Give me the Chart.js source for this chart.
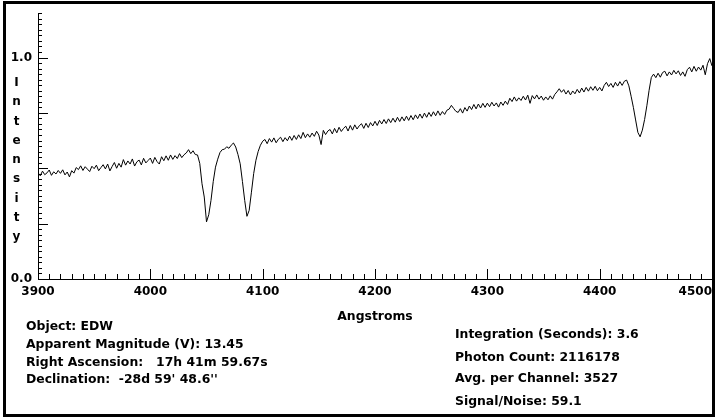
<!DOCTYPE html>
<html>
<head>
<meta charset="utf-8">
<title>EDW spectrum</title>
<script src="https://cdn.jsdelivr.net/npm/chart.js@4.4.1/dist/chart.umd.min.js"></script>
<style>
  html, body { margin: 0; padding: 0; background: #fff; }
  #wrap {
    position: relative; width: 715px; height: 418px; overflow: hidden;
    font-family: "DejaVu Sans", sans-serif; font-weight: bold; font-size: 12.4px; color: #000;
  }
  #spectrum { position: absolute; left: 0; top: 0; }
  .frame {
    position: absolute; left: 3px; top: 1px; width: 706px; height: 410px;
    border: 3px solid #000; pointer-events: none;
  }
  .info { position: absolute; white-space: pre; line-height: 14px; }
  .ylab {
    position: absolute; left: 10px; top: 73px; width: 13px;
    text-align: center; line-height: 19.25px; font-size: 12px;
  }
  .ylab span { display: block; }
</style>
</head>
<body>
<div id="wrap">
  <canvas id="spectrum" width="715" height="418"></canvas>
  <div class="ylab" id="ylab"></div>
  <div class="info" style="left:26px; top:319px;">Object: EDW</div>
  <div class="info" style="left:26px; top:337px;">Apparent Magnitude (V): 13.45</div>
  <div class="info" style="left:26px; top:355px;">Right Ascension:   17h 41m 59.67s</div>
  <div class="info" style="left:26px; top:372px;">Declination:  -28d 59' 48.6''</div>
  <div class="info" style="left:455px; top:327px;">Integration (Seconds): 3.6</div>
  <div class="info" style="left:455px; top:350px;">Photon Count: 2116178</div>
  <div class="info" style="left:455px; top:371px;">Avg. per Channel: 3527</div>
  <div class="info" style="left:455px; top:394px;">Signal/Noise: 59.1</div>
  <div class="frame"></div>
</div>
<script>
// Wavelength grid: one sample every 2 Angstroms starting at 3900
const channelStart = 3900;
const channelStep = 2;

// Relative intensity, 3900-3998 A
const flux3900s = [
  0.480, 0.466, 0.487, 0.471, 0.479, 0.492, 0.468, 0.484, 0.474, 0.490,
  0.477, 0.493, 0.470, 0.483, 0.461, 0.489, 0.478, 0.503, 0.494, 0.511,
  0.490, 0.507, 0.496, 0.485, 0.509, 0.498, 0.514, 0.489, 0.503, 0.516,
  0.497, 0.519, 0.488, 0.508, 0.526, 0.500, 0.522, 0.505, 0.539, 0.514,
  0.533, 0.519, 0.542, 0.510, 0.529, 0.537, 0.515, 0.545, 0.524, 0.535
];
// 4000-4098 A (two absorption lines)
const flux4000s = [
  0.546, 0.522, 0.549, 0.530, 0.519, 0.552, 0.534, 0.556, 0.536, 0.560,
  0.540, 0.557, 0.544, 0.566, 0.548, 0.561, 0.569, 0.584, 0.566, 0.579,
  0.562, 0.560, 0.522, 0.430, 0.370, 0.258, 0.290, 0.355, 0.440, 0.505,
  0.541, 0.571, 0.584, 0.586, 0.597, 0.590, 0.604, 0.614, 0.596, 0.562,
  0.520, 0.440, 0.355, 0.283, 0.310, 0.392, 0.476, 0.536, 0.576, 0.604
];
// 4100-4198 A
const flux4100s = [
  0.622, 0.630, 0.611, 0.634, 0.618, 0.637, 0.615, 0.631, 0.640, 0.620,
  0.638, 0.624, 0.645, 0.626, 0.648, 0.630, 0.651, 0.634, 0.662, 0.638,
  0.655, 0.640, 0.659, 0.644, 0.667, 0.650, 0.607, 0.671, 0.652, 0.668,
  0.675, 0.655, 0.680, 0.660, 0.685, 0.666, 0.680, 0.690, 0.668, 0.693,
  0.672, 0.696, 0.677, 0.692, 0.701, 0.680, 0.703, 0.684, 0.706, 0.691
];
// 4200-4298 A
const flux4200s = [
  0.712, 0.693, 0.716, 0.700, 0.720, 0.702, 0.723, 0.706, 0.726, 0.708,
  0.730, 0.711, 0.732, 0.714, 0.735, 0.716, 0.738, 0.719, 0.741, 0.724,
  0.745, 0.726, 0.749, 0.730, 0.752, 0.734, 0.755, 0.737, 0.759, 0.739,
  0.756, 0.743, 0.762, 0.767, 0.784, 0.770, 0.757, 0.752, 0.769, 0.749,
  0.774, 0.758, 0.781, 0.765, 0.788, 0.768, 0.790, 0.772, 0.793, 0.775
];
// 4300-4398 A
const flux4300s = [
  0.794, 0.778, 0.798, 0.781, 0.795, 0.776, 0.799, 0.784, 0.803, 0.788,
  0.816, 0.801, 0.822, 0.803, 0.818, 0.806, 0.825, 0.808, 0.830, 0.793,
  0.828, 0.813, 0.831, 0.812, 0.826, 0.807, 0.822, 0.809, 0.827, 0.812,
  0.833, 0.845, 0.859, 0.843, 0.855, 0.835, 0.851, 0.831, 0.849, 0.836,
  0.856, 0.840, 0.862, 0.844, 0.865, 0.848, 0.868, 0.852, 0.870, 0.850
];
// 4400-4500 A (absorption line near 4435)
const flux4400s = [
  0.865, 0.849, 0.874, 0.888, 0.869, 0.883, 0.865, 0.888, 0.871, 0.891,
  0.874, 0.893, 0.898, 0.872, 0.825, 0.775, 0.718, 0.662, 0.642, 0.672,
  0.720, 0.782, 0.852, 0.910, 0.925, 0.909, 0.929, 0.911, 0.932, 0.938,
  0.917, 0.935, 0.921, 0.942, 0.926, 0.940, 0.919, 0.935, 0.915, 0.945,
  0.956, 0.935, 0.960, 0.938, 0.957, 0.943, 0.965, 0.922, 0.972, 0.995,
  0.962
];

// Axis labels
const wavelengthLabels = [3900, 4000, 4100, 4200, 4300, 4400, 4500];
const intensityLabels = [0.0, 1.0];
const axisTitleX = 'Angstroms';
const axisTitleY = 'Intensity';

const intensity = [].concat(flux3900s, flux4000s, flux4100s, flux4200s, flux4300s, flux4400s);
const points = intensity.map((v, i) => ({ x: channelStart + i * channelStep, y: v }));

// Stacked vertical axis caption
document.getElementById('ylab').innerHTML =
  axisTitleY.split('').map(c => '<span>' + c + '</span>').join('');

const near = (a, b) => Math.abs(a - b) < 1e-6;
const isMultiple = (v, m) => near(v / m, Math.round(v / m));

// Tick marks drawn inward from the axes, plus the wavelength labels
const inwardTicks = {
  id: 'inwardTicks',
  afterDraw(chart) {
    const { ctx, chartArea: a, scales: { x, y } } = chart;
    ctx.save();
    ctx.strokeStyle = '#000';
    ctx.lineWidth = 1;
    ctx.beginPath();
    y.ticks.forEach(t => {
      const py = Math.round(y.getPixelForValue(t.value)) + 0.5;
      const len = isMultiple(t.value, 0.25) ? 10 : 4;
      ctx.moveTo(a.left, py);
      ctx.lineTo(a.left + len, py);
    });
    x.ticks.forEach(t => {
      const px = Math.round(x.getPixelForValue(t.value)) + 0.5;
      const len = isMultiple(t.value, 100) ? 10 : 5;
      ctx.moveTo(px, a.bottom);
      ctx.lineTo(px, a.bottom - len);
    });
    ctx.stroke();

    ctx.fillStyle = '#000';
    ctx.font = 'bold 12px "DejaVu Sans"';
    ctx.textBaseline = 'alphabetic';
    wavelengthLabels.forEach((w, i) => {
      const last = i === wavelengthLabels.length - 1;
      ctx.textAlign = last ? 'right' : 'center';
      const px = last ? a.right : x.getPixelForValue(w);
      ctx.fillText(String(w), px, a.bottom + 16);
    });
    ctx.restore();
  }
};

const labelFont = { family: 'DejaVu Sans', weight: 'bold', size: 12 };

new Chart(document.getElementById('spectrum'), {
  type: 'line',
  data: {
    datasets: [{
      data: points,
      borderColor: '#000',
      borderWidth: 1,
      pointRadius: 0,
      tension: 0,
      fill: false
    }]
  },
  options: {
    responsive: false,
    animation: false,
    events: [],
    layout: { padding: { left: 0, top: 8, right: 3, bottom: 94 }, autoPadding: false },
    plugins: { legend: { display: false }, tooltip: { enabled: false } },
    scales: {
      x: {
        type: 'linear',
        min: 3900,
        max: 4500,
        ticks: { stepSize: 10, autoSkip: false, display: false },
        grid: { display: false, drawTicks: false },
        border: { display: true, color: '#000', width: 1 },
        title: {
          display: true, text: axisTitleX, color: '#000',
          font: { family: 'DejaVu Sans', weight: 'bold', size: 12.4 },
          padding: { top: 0, bottom: 0 }
        },
        afterFit(scale) { scale.height = 45; }
      },
      y: {
        min: 0,
        max: 1.2,
        ticks: {
          stepSize: 0.025,
          autoSkip: false,
          color: '#000',
          font: labelFont,
          padding: 6,
          callback: v => {
            const hit = intensityLabels.find(l => near(l, v));
            return hit === undefined ? '' : hit.toFixed(1);
          }
        },
        grid: { display: false, drawTicks: false },
        border: { display: true, color: '#000', width: 1 },
        afterFit(scale) { scale.width = 38; }
      }
    }
  },
  plugins: [inwardTicks]
});
</script>
</body>
</html>
